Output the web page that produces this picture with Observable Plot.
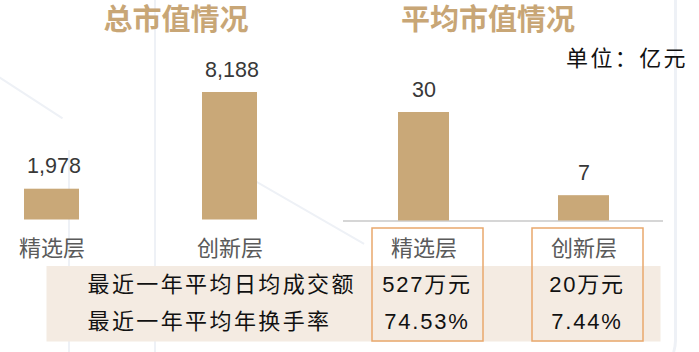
<!DOCTYPE html>
<html><head><meta charset="utf-8">
<script src="https://cdn.jsdelivr.net/npm/d3@7"></script>
<script src="https://cdn.jsdelivr.net/npm/@observablehq/plot@0.6"></script>
<style>
body{margin:0;background:#fff;}
#root{position:relative;width:699px;height:352px;overflow:hidden;font-family:"Liberation Sans","Noto Sans CJK SC",sans-serif;}
.box{position:absolute;left:0;top:0;}
.title{position:absolute;top:6.2px;width:220px;text-align:center;font-family:"Liberation Sans","Noto Sans CJK SC",sans-serif;font-weight:bold;font-size:29px;line-height:1;color:#c8a676;white-space:nowrap;}
.unit{position:absolute;top:44.5px;right:11px;font-family:"Noto Sans CJK SC";font-size:22px;line-height:1;letter-spacing:2.4px;color:#111;white-space:nowrap;}
.deco{position:absolute;border-color:#eef1f6;border-style:solid;border-width:0;}
</style></head><body><div id="root"></div>
<script>
// ---- data ----
const tiers = ["精选层", "创新层"];
const totalValue = [1978, 8188];   // 总市值（亿元）
const avgValue = [30, 7];          // 平均市值（亿元）
const rowLabels = ["最近一年平均日均成交额", "最近一年平均年换手率"];
const tradeAmount = ["527万元", "20万元"];
const turnover = ["74.53%", "7.44%"];
const titles = ["总市值情况", "平均市值情况"];
const unitLabel = "单位：亿元";

// ---- style constants ----
const FONT = '"Liberation Sans","Noto Sans CJK SC",sans-serif';
const BAR = "#c9a878";
const root = document.getElementById("root");

// decorations (faint background lines)
function deco(css){const d=document.createElement("div");d.className="deco";Object.assign(d.style,css);root.appendChild(d);}
deco({left:"154px",top:"0px",height:"352px",borderLeftWidth:"2px"});
deco({left:"68px",top:"150px",height:"202px",borderLeftWidth:"2px"});
deco({left:"-100px",top:"-40px",width:"774px",height:"420px",borderRightWidth:"3px",borderRadius:"40px"});
deco({left:"-4px",top:"74px",width:"80px",borderTopWidth:"2px",transform:"rotate(33deg)",transformOrigin:"0 0"});
deco({left:"252px",top:"178px",width:"130px",borderTopWidth:"2px",transform:"rotate(30deg)",transformOrigin:"0 0"});

const fmt = d3.format(",");
const total = tiers.map((t, i) => ({tier: t, value: totalValue[i]}));
const avg = tiers.map((t, i) => ({tier: t, value: avgValue[i]}));

function place(svg, left, top){
  const w = document.createElement("div");
  w.className = "box"; w.style.left = left + "px"; w.style.top = top + "px";
  w.appendChild(svg); root.appendChild(w);
}
const svgStyle = {background: "transparent", overflow: "visible", fontFamily: FONT};

// left chart: 总市值
const left = Plot.plot({
  width: 345, height: 262, margin: 0, style: svgStyle,
  x: {domain: tiers, range: [-37, 319], paddingInner: 0.69, paddingOuter: 0.345, axis: null},
  y: {domain: [0, d3.max(totalValue)], range: [219.5, 92], axis: null},
  marks: [
    Plot.barY(total, {x: "tier", y: "value", fill: BAR}),
    Plot.text(total, {x: "tier", y: "value", text: d => fmt(d.value), lineAnchor: "bottom", dy: -16, dx: 2, fontSize: 21.5, fill: "#383838", fontFamily: FONT}),
    Plot.text(total, {x: "tier", y: () => 0, text: "tier", lineAnchor: "bottom", dy: 36, fontSize: 22, fill: "#5a5a5a", fontFamily: FONT})
  ]
});
place(left, 0, 0);

// right chart: 平均市值
const right = Plot.plot({
  width: 340, height: 262, marginLeft: 3, marginRight: 17, marginTop: 0, marginBottom: 0, style: svgStyle,
  x: {domain: tiers, range: [3.5, 323.5], paddingInner: 0.681, paddingOuter: 0.3405, axis: null},
  y: {domain: [0, d3.max(avgValue)], range: [220.5, 112], axis: null},
  marks: [
    Plot.ruleY([0], {stroke: "#d6d6d6", strokeWidth: 2}),
    Plot.barY(avg, {x: "tier", y: "value", fill: BAR}),
    Plot.text(avg, {x: "tier", y: "value", text: d => fmt(d.value), lineAnchor: "bottom", dy: -16, fontSize: 21.5, fill: "#383838", fontFamily: FONT}),
    Plot.text(avg, {x: "tier", y: () => 0, text: "tier", lineAnchor: "bottom", dy: 35, fontSize: 22, fill: "#5a5a5a", fontFamily: FONT})
  ]
});
place(right, 340, 0);

// table
const cells = [];
rowLabels.forEach((r, i) => tiers.forEach((t, j) => cells.push({row: r, tier: t, text: [tradeAmount, turnover][i][j]})));
const table = Plot.plot({
  width: 699, height: 130, marginLeft: 46, marginRight: 39, marginTop: 6, marginBottom: 11,
  style: {...svgStyle, letterSpacing: "2.4px"},
  x: {type: "band", domain: tiers, range: [347.25, 668.25], paddingInner: 0.308, paddingOuter: 0.154, axis: null},
  y: {type: "band", domain: ["", ...rowLabels], padding: 0, axis: null},
  marks: [
    Plot.frame({fill: "#f4ebe2", stroke: "none", insetTop: 37.5}),
    Plot.cell(tiers, {x: d => d, fill: "none", stroke: "#e9a86c", strokeWidth: 1.5}),
    Plot.text(rowLabels, {y: d => d, text: d => d, frameAnchor: "left", dx: 41, fontSize: 22, fill: "#111", fontFamily: FONT}),
    Plot.text(cells, {x: "tier", y: "row", text: "text", dx: -1, fontSize: 22, fill: "#111", fontFamily: FONT})
  ]
});
// values use a slightly tighter letter spacing than the row labels
d3.select(table).selectAll('g[aria-label="text"]').filter((d, i) => i === 1).attr("letter-spacing", "1.8px");
place(table, 0, 222);

// titles & unit
[[titles[0], 66], [titles[1], 378]].forEach(([t, l]) => {
  const d = document.createElement("div"); d.className = "title"; d.style.left = l + "px"; d.textContent = t; root.appendChild(d);
});
const u = document.createElement("div"); u.className = "unit"; u.textContent = unitLabel; root.appendChild(u);
</script>
</body></html>
